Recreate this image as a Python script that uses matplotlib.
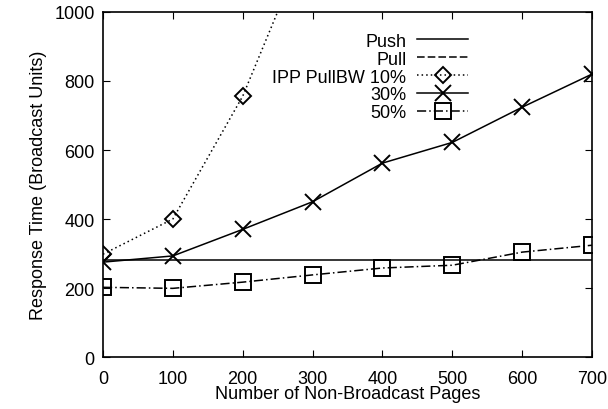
import matplotlib.pyplot as plt

plt.rcParams['font.family'] = ['Liberation Sans', 'DejaVu Sans']

pages = [0, 100, 200, 300, 400, 500, 600, 700]
push = [280, 280, 280, 280, 280, 280, 280, 280]
pull_x = []
pull = []
bw10_x = [0, 100, 200, 300]
bw10 = [298, 400, 756, 1245]
bw30 = [275, 293, 370, 450, 562, 622, 724, 820]
bw50 = [202, 199, 217, 238, 258, 266, 304, 324]

fs = 13

fig = plt.figure(figsize=(6.08, 4.10), dpi=100)
ax = fig.add_axes([0.1694, 0.1268, 0.8043, 0.8415])

ax.plot(pages, push, color='k', lw=1.1, label='Push')
ax.plot(pull_x, pull, color='k', lw=1.1, ls=(0, (5, 2)), label='Pull')
ax.plot(bw10_x, bw10, color='k', lw=1.1, ls=(0, (1, 2)), marker='D', ms=8,
        mfc='none', mew=1.4, label='IPP PullBW 10%')
ax.plot(pages, bw30, color='k', lw=1.1, marker='x', ms=12, mew=1.4, label='30%')
ax.plot(pages, bw50, color='k', lw=1.1, ls=(0, (6, 2, 1, 2)), marker='s', ms=12,
        mfc='none', mew=1.4, label='50%')

ax.set_xlim(0, 700)
ax.set_ylim(0, 1000)
ax.set_xticks(range(0, 701, 100))
ax.set_yticks(range(0, 1001, 200))
ax.tick_params(direction='in', top=True, right=True, length=5, labelsize=fs, pad=6)
ax.tick_params(axis='x', pad=9)
for s in ax.spines.values():
    s.set_linewidth(1.2)

ax.set_xlabel('Number of Non-Broadcast Pages', fontsize=fs, labelpad=-1)
ax.set_ylabel('Response Time (Broadcast Units)', fontsize=fs, labelpad=5)

ax.legend(loc='upper right', bbox_to_anchor=(0.746, 0.94), frameon=False,
          markerfirst=False, fontsize=fs, handlelength=2.8, handletextpad=0.6,
          labelspacing=0.05, borderpad=0, borderaxespad=0)

fig.savefig('out.png', dpi=100)
